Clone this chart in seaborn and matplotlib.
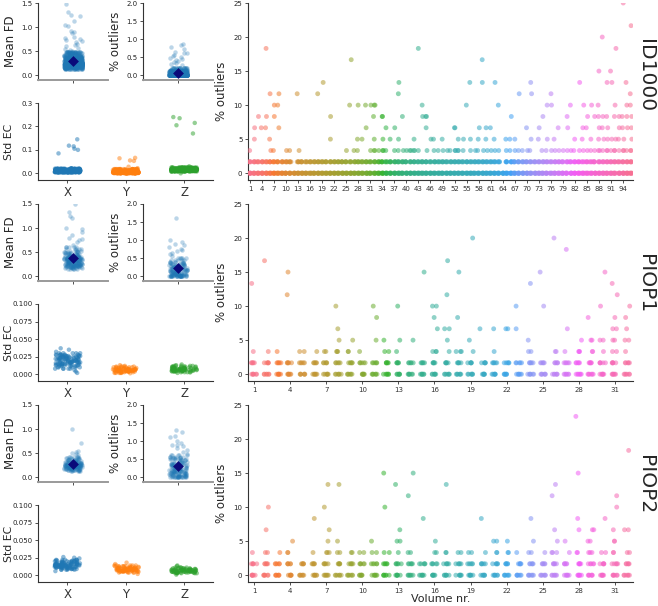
import numpy as np
import pandas as pd
import matplotlib
matplotlib.use("Agg")
import matplotlib.pyplot as plt
import seaborn as sns

# ---------------- datos ----------------
datasets = ["ID1000", "PIOP1", "PIOP2"]
axis_names = ["X", "Y", "Z"]

# ID1000 (muchos sujetos -> el nucleo se repite mas veces)
id1000_copies = 20
id1000_fd_core = [0.13, 0.15, 0.16, 0.17, 0.18, 0.19, 0.19, 0.2, 0.2, 0.21, 0.21, 0.22, 0.22,
                  0.23, 0.23, 0.24, 0.24, 0.25, 0.25, 0.26, 0.26, 0.27, 0.28, 0.29, 0.3, 0.31,
                  0.32, 0.33, 0.35, 0.37, 0.39, 0.42, 0.45, 0.48]
id1000_fd_sparse = [0.5, 0.52, 0.55, 0.57, 0.6, 0.62, 0.65, 0.68, 0.7, 0.72, 0.75, 0.78, 0.8,
                    0.88, 0.9, 0.92, 1.02, 1.05, 1.12, 1.22, 1.25, 1.32, 1.47]
id1000_out_core = [0.0, 0.0, 0.0, 0.0, 0.0, 0.0, 0.0, 0.0, 0.0, 0.0, 0.01, 0.01, 0.02, 0.03,
                   0.04, 0.05, 0.06, 0.08, 0.1, 0.12, 0.15, 0.2]
id1000_out_sparse = [0.27, 0.3, 0.33, 0.35, 0.38, 0.42, 0.45, 0.48, 0.5, 0.52, 0.55, 0.6, 0.62,
                     0.65, 0.72, 0.78, 0.82, 0.85]
id1000_ec_x_core = [0.004, 0.005, 0.006, 0.007, 0.008, 0.008, 0.009, 0.009, 0.01, 0.01, 0.011,
                    0.011, 0.012, 0.013, 0.014, 0.016, 0.018, 0.02]
id1000_ec_x_sparse = [0.145, 0.118, 0.115, 0.105, 0.1, 0.085]
id1000_ec_y_core = [0.0, 0.001, 0.002, 0.003, 0.003, 0.004, 0.004, 0.005, 0.005, 0.006, 0.006,
                    0.007, 0.008, 0.009, 0.01, 0.012, 0.014, 0.018]
id1000_ec_y_sparse = [0.066, 0.064, 0.055, 0.053, 0.028, 0.022]
id1000_ec_z_core = [0.008, 0.01, 0.011, 0.012, 0.013, 0.013, 0.014, 0.014, 0.015, 0.015, 0.016,
                    0.016, 0.017, 0.018, 0.019, 0.02, 0.022, 0.025]
id1000_ec_z_sparse = [0.24, 0.235, 0.215, 0.205, 0.17, 0.03, 0.0]
id1000_n_vol = 96
id1000_gaps_167 = [12, 64]
id1000_levels = {
    3.33: [1, 6, 7, 10, 11, 13, 25, 27, 28, 31, 32, 32, 33, 34, 34, 35, 37, 38, 39, 40, 41, 41,
           42, 42, 43, 45, 47, 48, 49, 50, 51, 52, 52, 53, 53, 54, 56, 57, 58, 59, 60, 61, 62,
           63, 65, 66, 67, 68, 69, 70, 71, 74, 75, 76, 77, 78, 79, 80, 81, 82, 83, 84, 85, 86,
           87, 88, 88, 89, 90, 90, 91, 92, 92, 93, 94, 94, 95, 96, 96],
    5.0: [2, 6, 21, 28, 29, 32, 34, 36, 38, 42, 46, 47, 49, 53, 54, 56, 58, 60, 62, 65, 66, 67,
          71, 73, 75, 77, 82, 84, 86, 88, 89, 90, 91, 92, 93, 94, 96],
    6.67: [2, 4, 5, 8, 30, 35, 37, 45, 52, 52, 58, 60, 61, 70, 73, 78, 80, 84, 85, 88, 89, 90,
           93, 94, 95, 96],
    8.33: [3, 5, 7, 21, 32, 34, 34, 39, 44, 45, 45, 66, 74, 80, 85, 87, 88, 89, 90, 92, 93, 94,
           95, 96],
    10.0: [7, 8, 26, 28, 30, 31, 32, 32, 44, 55, 63, 75, 76, 81, 84, 86, 88, 92, 95, 96],
    11.67: [6, 8, 13, 18, 38, 68, 71, 76, 96],
    13.33: [19, 38, 56, 59, 62, 71, 83, 90, 91, 95],
    15.0: [88, 91],
    16.67: [26, 59],
    18.33: [5, 43, 92],
    20.0: [89],
    21.67: [96],
    25.0: [94],
}

# PIOP1
piop1_copies = 5
piop1_fd_core = [0.14, 0.16, 0.18, 0.19, 0.2, 0.21, 0.22, 0.23, 0.24, 0.25, 0.26, 0.27, 0.28,
                 0.29, 0.3, 0.31, 0.32, 0.33, 0.34, 0.35, 0.36, 0.37, 0.38, 0.39, 0.4, 0.42,
                 0.44, 0.46, 0.48, 0.5, 0.53, 0.56, 0.6]
piop1_fd_sparse = [1.5, 1.33, 1.25, 1.2, 1.0, 0.98, 0.92, 0.85, 0.8, 0.78, 0.75, 0.7, 0.65]
piop1_out_core = [0.0, 0.0, 0.0, 0.0, 0.0, 0.02, 0.04, 0.05, 0.06, 0.08, 0.1, 0.12, 0.14, 0.16,
                  0.18, 0.2, 0.22, 0.25, 0.28, 0.3, 0.33, 0.36, 0.4, 0.45, 0.5]
piop1_out_sparse = [0.55, 0.6, 0.65, 0.7, 0.72, 0.75, 0.8, 0.85, 0.9, 0.95, 1.0, 1.62]
piop1_ec_x_core = [0.008, 0.01, 0.012, 0.013, 0.014, 0.015, 0.016, 0.017, 0.018, 0.019, 0.02,
                   0.021, 0.022, 0.023, 0.024, 0.025, 0.026, 0.027, 0.028, 0.03]
piop1_ec_x_sparse = [0.002, 0.004, 0.006, 0.032, 0.035, 0.037]
piop1_ec_y_core = [0.002, 0.003, 0.004, 0.004, 0.005, 0.005, 0.006, 0.006, 0.007, 0.007, 0.008,
                   0.009, 0.01, 0.011]
piop1_ec_y_sparse = [0.0015, 0.012, 0.013]
piop1_ec_z_core = [0.003, 0.004, 0.005, 0.005, 0.006, 0.006, 0.007, 0.007, 0.008, 0.008, 0.009,
                   0.01, 0.011, 0.012]
piop1_ec_z_sparse = [0.002, 0.013, 0.014]
piop1_n_vol = 32
piop1_gaps_167 = []
piop1_levels = {
    3.33: [1, 2, 3, 5, 5, 6, 7, 7, 8, 8, 8, 9, 9, 10, 12, 12, 13, 16, 16, 16, 17, 18, 18, 18, 19,
           21, 24, 24, 26, 26, 27, 28, 28, 28, 29, 29, 30, 31, 31, 32],
    5.0: [8, 9, 11, 12, 13, 14, 17, 19, 24, 28, 29, 29, 30, 30, 31, 31, 32, 32],
    6.67: [8, 16, 17, 17, 20, 21, 22, 22, 23, 27, 31, 31, 32],
    8.33: [11, 16, 18, 29, 31, 32],
    10.0: [8, 11, 13, 16, 16, 23, 25, 30, 32],
    11.67: [4, 17, 31],
    13.33: [1, 24, 31],
    15.0: [4, 15, 18, 25, 30],
    16.67: [2, 17],
    18.33: [27],
    20.0: [19, 26],
}

# PIOP2
piop2_copies = 5
piop2_fd_core = [0.12, 0.14, 0.15, 0.16, 0.17, 0.18, 0.19, 0.2, 0.21, 0.22, 0.22, 0.23, 0.24,
                 0.25, 0.25, 0.26, 0.27, 0.28, 0.29, 0.3, 0.31, 0.32, 0.34, 0.36, 0.38, 0.4, 0.42]
piop2_fd_sparse = [0.45, 0.47, 0.5, 0.52, 0.55, 0.7, 1.0]
piop2_out_core = [0.0, 0.0, 0.0, 0.02, 0.04, 0.06, 0.08, 0.1, 0.12, 0.14, 0.16, 0.18, 0.2, 0.22,
                  0.25, 0.28, 0.3, 0.33, 0.36, 0.4, 0.43, 0.46, 0.5, 0.53, 0.56, 0.6]
piop2_out_sparse = [0.65, 0.7, 0.75, 0.8, 0.85, 0.88, 0.9, 0.95, 1.0, 1.1, 1.15, 1.25, 1.3]
piop2_ec_x_core = [0.008, 0.009, 0.01, 0.011, 0.012, 0.012, 0.013, 0.013, 0.014, 0.014, 0.015,
                   0.015, 0.016, 0.016, 0.017, 0.018, 0.019, 0.02, 0.021, 0.022]
piop2_ec_x_sparse = [0.006, 0.024, 0.025, 0.026]
piop2_ec_y_core = [0.004, 0.005, 0.006, 0.006, 0.007, 0.007, 0.008, 0.008, 0.009, 0.009, 0.01,
                   0.01, 0.011, 0.012, 0.013, 0.014]
piop2_ec_y_sparse = [0.002, 0.016, 0.018]
piop2_ec_z_core = [0.003, 0.004, 0.004, 0.005, 0.005, 0.006, 0.006, 0.007, 0.007, 0.008, 0.008,
                   0.009, 0.01, 0.011]
piop2_ec_z_sparse = [0.001, 0.013, 0.014]
piop2_n_vol = 32
piop2_gaps_167 = []
piop2_levels = {
    3.33: [1, 2, 2, 3, 4, 4, 6, 7, 7, 7, 8, 8, 9, 9, 10, 10, 11, 11, 12, 12, 13, 14, 14, 16, 16,
           17, 17, 18, 18, 19, 19, 20, 21, 21, 22, 22, 23, 24, 24, 25, 26, 26, 26, 27, 28, 28,
           29, 29, 29, 30, 30, 31, 31, 32, 32],
    5.0: [4, 7, 8, 11, 13, 13, 16, 21, 21, 22, 24, 26, 27, 29, 29, 31, 31],
    6.67: [2, 7, 13, 26, 28, 29, 29, 31, 32, 32],
    8.33: [6, 15, 20, 24, 28, 30],
    10.0: [2, 7, 12, 31],
    11.67: [14, 26, 31],
    13.33: [7, 8, 13, 17, 26],
    15.0: [12, 14, 28],
    18.33: [32],
    23.33: [28],
}


def juntar(core, sparse, copies):
    return np.array(list(core) * copies + list(sparse))


def tabla_ec(cores, sparses, copies):
    filas = []
    for nombre, core, sparse in zip(axis_names, cores, sparses):
        for val in list(core) * copies + list(sparse):
            filas.append((nombre, val))
    return pd.DataFrame(filas, columns=["axis", "std"])


def tabla_volumenes(n_vol, gaps, levels, base=(6, 5)):
    filas = []
    for v in range(1, n_vol + 1):
        filas += [(str(v), 0.0)] * base[0]
        if v not in gaps:
            filas += [(str(v), 1.67)] * base[1]
    for pct, vols in levels.items():
        filas += [(str(v), pct) for v in vols]
    return pd.DataFrame(filas, columns=["vol", "pct"])


filas_datos = [
    dict(fd=juntar(id1000_fd_core, id1000_fd_sparse, id1000_copies),
         out=juntar(id1000_out_core, id1000_out_sparse, id1000_copies),
         ec=tabla_ec([id1000_ec_x_core, id1000_ec_y_core, id1000_ec_z_core],
                     [id1000_ec_x_sparse, id1000_ec_y_sparse, id1000_ec_z_sparse], id1000_copies),
         vol=tabla_volumenes(id1000_n_vol, id1000_gaps_167, id1000_levels, base=(6, 4)),
         n_vol=id1000_n_vol, ec_max=0.3, ec_ticks=[0.0, 0.1, 0.2, 0.3]),
    dict(fd=juntar(piop1_fd_core, piop1_fd_sparse, piop1_copies),
         out=juntar(piop1_out_core, piop1_out_sparse, piop1_copies),
         ec=tabla_ec([piop1_ec_x_core, piop1_ec_y_core, piop1_ec_z_core],
                     [piop1_ec_x_sparse, piop1_ec_y_sparse, piop1_ec_z_sparse], piop1_copies),
         vol=tabla_volumenes(piop1_n_vol, piop1_gaps_167, piop1_levels),
         n_vol=piop1_n_vol, ec_max=0.1, ec_ticks=[0.0, 0.025, 0.05, 0.075, 0.1]),
    dict(fd=juntar(piop2_fd_core, piop2_fd_sparse, piop2_copies),
         out=juntar(piop2_out_core, piop2_out_sparse, piop2_copies),
         ec=tabla_ec([piop2_ec_x_core, piop2_ec_y_core, piop2_ec_z_core],
                     [piop2_ec_x_sparse, piop2_ec_y_sparse, piop2_ec_z_sparse], piop2_copies),
         vol=tabla_volumenes(piop2_n_vol, piop2_gaps_167, piop2_levels),
         n_vol=piop2_n_vol, ec_max=0.1, ec_ticks=[0.0, 0.025, 0.05, 0.075, 0.1]),
]

# ---------------- figura ----------------
np.random.seed(0)
sns.set_style("ticks")
plt.rcParams["font.family"] = ["DejaVu Sans"]

W, H = 658, 606
fig = plt.figure(figsize=(W / 100, H / 100), dpi=100)


def ejes(left, top, w, h):
    return fig.add_axes([left / W, 1 - (top + h) / H, w / W, h / H])


def estilo(ax, label_size=5):
    sns.despine(ax=ax)
    for s in ["left", "bottom"]:
        ax.spines[s].set_color("#333333")
        ax.spines[s].set_linewidth(0.8)
    ax.tick_params(labelsize=label_size, length=2.5, width=0.6, pad=1.5, colors="#333333")
    ax.tick_params(axis="y", labelcolor="#222222")


azul = sns.color_palette("tab10")[0]
etiqueta_centros = [76, 284, 485]

for i, (nombre, d) in enumerate(zip(datasets, filas_datos)):
    top = 3 + 201 * i

    # Mean FD y % outliers
    for left, valores, ylab, ymax, yticks in [
        (38.3, d["fd"], "Mean FD", 1.5, [0.0, 0.5, 1.0, 1.5]),
        (143.3, d["out"], "% outliers", 2.0, [0.0, 0.5, 1.0, 1.5, 2.0]),
    ]:
        ax = ejes(left, top, 70, 77)
        sns.stripplot(y=valores, ax=ax, color=azul, alpha=0.3, jitter=0.13, size=3.2,
                      linewidth=0)
        n_lineas = len(ax.lines)
        sns.pointplot(y=valores, ax=ax, color="#0a0a7a", markers="D", markersize=3.5,
                      err_kws={"linewidth": 1.6}, errorbar=("ci", 95), seed=0)
        for ln in ax.lines[n_lineas:]:
            ln.set_zorder(10)
        ax.set_ylim(-ymax * 0.069, ymax)
        ax.set_yticks(yticks)
        ax.set_xlim(-0.5, 0.5)
        ax.set_xticks([0])
        ax.set_xticklabels([""])
        ax.set_ylabel(ylab, fontsize=8.5, labelpad=3)
        estilo(ax)
        ax.spines["bottom"].set_color("#9a9a9a")
        ax.spines["bottom"].set_linewidth(1.4)

    # Std EC
    ax = ejes(38.3, top + 100, 175, 77)
    sns.stripplot(data=d["ec"], x="axis", y="std", hue="axis", order=axis_names,
                  hue_order=axis_names, palette=sns.color_palette("tab10")[:3],
                  legend=False, alpha=0.5, jitter=0.22, size=3.2, linewidth=0, ax=ax)
    ax.set_ylim(-d["ec_max"] * 0.095, d["ec_max"])
    ax.set_yticks(d["ec_ticks"])
    ax.set_xlabel("")
    ax.set_ylabel("Std EC", fontsize=7.8)
    ax.yaxis.set_label_coords((14 - 38.3) / 175, 0.5)
    estilo(ax)
    ax.tick_params(axis="x", labelsize=8.5)

    # % outliers por volumen
    n = d["n_vol"]
    orden = [str(v) for v in range(1, n + 1)]
    ax = ejes(248, top, 385, 177)
    sns.stripplot(data=d["vol"], x="vol", y="pct", hue="vol", order=orden, hue_order=orden,
                  palette=sns.color_palette("husl", n), legend=False, alpha=0.55,
                  jitter=0.25, size=3.5, linewidth=0, ax=ax)
    ax.set_ylim(-1, 25)
    ax.set_yticks([0, 5, 10, 15, 20, 25])
    ax.set_xlim(-0.5, n - 0.5)
    ax.set_xticks(range(0, n, 3))
    ax.set_xticklabels([orden[k] for k in range(0, n, 3)])
    ax.set_ylabel("% outliers", fontsize=8.5)
    ax.set_xlabel("Volume nr." if i == 2 else "", fontsize=8, labelpad=0)
    estilo(ax)

    fig.text(646 / W, 1 - etiqueta_centros[i] / H, nombre, rotation=270,
             ha="center", va="center", fontsize=14.5)

fig.savefig("out.png", dpi=100)
